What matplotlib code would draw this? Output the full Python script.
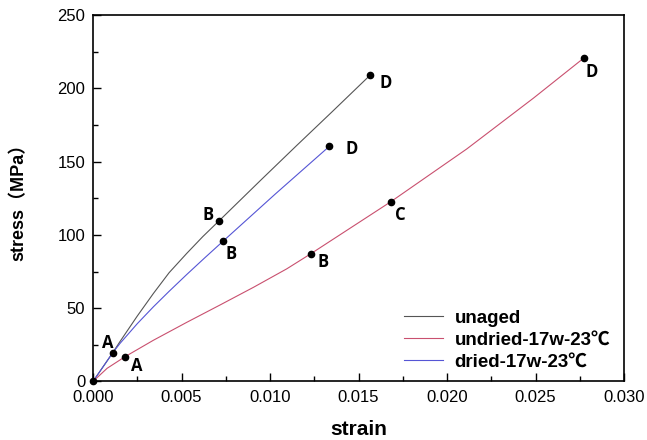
import matplotlib.pyplot as plt

# curves (strain, stress MPa)
unaged_x = [0.0, 0.00111, 0.00153, 0.0025, 0.00341, 0.0043, 0.00529, 0.0062, 0.00714,
            0.0095, 0.0115, 0.0135, 0.01565]
unaged_y = [0.0, 19.5, 27.3, 44.6, 60.0, 74.2, 87.3, 98.8, 109.8,
            137.6, 160.9, 183.9, 208.9]

dried_x = [0.0, 0.00111, 0.00153, 0.0025, 0.00341, 0.0043, 0.00529, 0.0063, 0.00733,
           0.0103, 0.01335]
dried_y = [0.0, 19.5, 26.0, 39.4, 50.9, 61.5, 72.9, 84.2, 95.5, 127.9, 160.4]

undried_x = [0.0, 0.0008, 0.00181, 0.00341, 0.00529, 0.00718, 0.00906, 0.01094,
             0.0123, 0.01682, 0.02111, 0.02488, 0.02774]
undried_y = [0.0, 9.0, 16.9, 28.1, 40.3, 52.2, 64.2, 76.8, 87.1, 122.6, 158.6, 193.3, 220.8]

# labelled points: (x, y, letter, offset px right, offset px down)
points = [
    (0.0, 0.0, '', 0, 0),
    (0.00111, 19.5, 'A', -5, -10),
    (0.00181, 16.9, 'A', 12, 9),
    (0.00714, 109.8, 'B', -11, -6),
    (0.00733, 95.5, 'B', 8, 13),
    (0.0123, 87.1, 'B', 12, 8),
    (0.01682, 122.6, 'C', 10, 13),
    (0.02774, 220.8, 'D', 8, 14),
    (0.01565, 208.9, 'D', 16, 8),
    (0.01335, 160.4, 'D', 22, 3),
]

plt.rcParams['font.family'] = ['Liberation Sans', 'Noto Sans CJK SC']

fig = plt.figure(figsize=(6.47, 4.40), dpi=100)
ax = fig.add_axes([0.1437, 0.133, 0.821, 0.833])

ax.plot(unaged_x, unaged_y, color='#555555', lw=0.8, label='unaged')
ax.plot(undried_x, undried_y, color='#c9506f', lw=0.8, label='undried-17w-23℃')
ax.plot(dried_x, dried_y, color='#5555d5', lw=0.8, label='dried-17w-23℃')

for x, y, lab, dx, dy in points:
    ax.plot(x, y, 'o', color='black', ms=4.5, clip_on=False, zorder=5)
    if lab:
        ax.annotate(lab, (x, y), xytext=(dx / 1.389, -dy / 1.389), textcoords='offset points',
                    ha='center', va='center', fontsize=12, fontweight='bold',
                    family=['Open Sans'])

ax.set_xlim(0, 0.030)
ax.set_ylim(0, 250)
ax.set_xticks([0, 0.005, 0.010, 0.015, 0.020, 0.025, 0.030])
ax.set_xticklabels(['0.000', '0.005', '0.010', '0.015', '0.020', '0.025', '0.030'])
ax.set_yticks([0, 50, 100, 150, 200, 250])
ax.set_xticks([0.0025, 0.0075, 0.0125, 0.0175, 0.0225, 0.0275], minor=True)
ax.set_yticks([25, 75, 125, 175, 225], minor=True)
ax.tick_params(which='major', direction='in', length=6, width=1, labelsize=12)
ax.tick_params(which='minor', direction='in', length=3.5, width=1)
ax.tick_params(axis='x', which='major', pad=6)
ax.tick_params(axis='y', which='major', pad=5.5)
for s in ax.spines.values():
    s.set_linewidth(1.2)

ax.set_xlabel('strain', fontsize=15, fontweight='bold')
ax.set_ylabel('stress（MPa）', fontsize=13, fontweight='bold')
ax.xaxis.set_label_coords(0.5, -0.105)
ax.yaxis.set_label_coords(-0.124, 0.5)

ax.legend(loc='lower right', bbox_to_anchor=(0.974, 0.03), frameon=False,
          prop={'weight': 'bold', 'size': 13.5},
          handlelength=2.1, handletextpad=0.6, borderaxespad=0, borderpad=0,
          labelspacing=0.25)

plt.savefig('out.png', dpi=100)
